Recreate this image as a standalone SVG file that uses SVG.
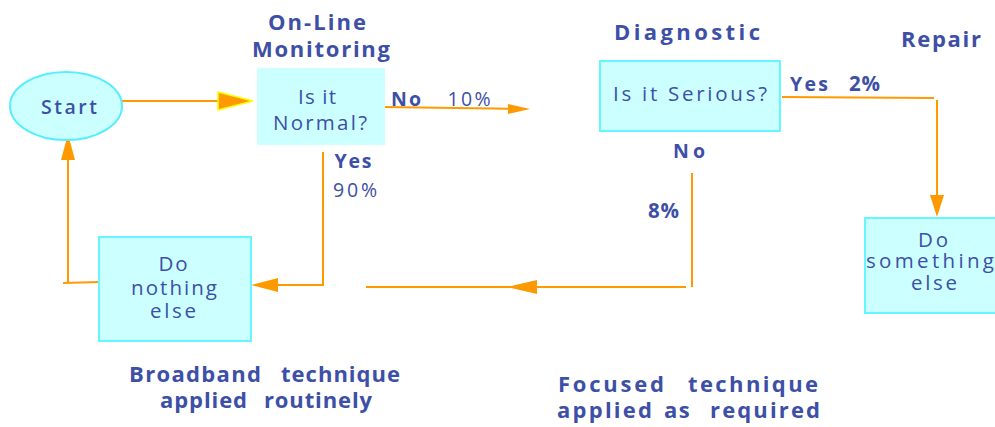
<svg xmlns="http://www.w3.org/2000/svg" width="995" height="427" viewBox="0 0 995 427">
<style>
.t{font-family:"Open Sans","Noto Sans",sans-serif;fill:#3d4fa6;text-anchor:middle;}
.s{text-anchor:start;}
.b{font-weight:bold;font-size:22px;}
.n{font-weight:500;font-size:20.5px;}
.lb{font-weight:bold;font-size:19.5px;}
.ln{font-weight:500;font-size:19.5px;}
.box{fill:#ccffff;stroke:#66f6ff;stroke-width:2;}
.c{fill:none;stroke:#ff9900;stroke-width:2;}
.ah{fill:#ff9900;stroke:none;}
</style>
<rect width="995" height="427" fill="#ffffff"/>
<g id="connectors">
  <line class="c" x1="122" y1="101" x2="220" y2="101"/>
  <polygon points="218,92 253,101 218,110" fill="#ff9900" stroke="#ffff00" stroke-width="1.5"/>
  <polyline class="c" points="384,107 520,109"/>
  <polygon class="ah" points="508,104 530,109 508,114"/>
  <polyline class="c" points="323,152 323,285 275,285"/>
  <polygon class="ah" points="278,278 251,285 278,292"/>
  <polyline class="c" points="99,282 63,283"/>
  <polyline class="c" points="68,283 68,158"/>
  <polygon class="ah" points="61,160 68,134 75,160"/>
  <polyline class="c" points="782,97 934,98"/>
  <polyline class="c" points="937,100 937,200"/>
  <polygon class="ah" points="930,195 937,217 944,195"/>
  <polyline class="c" points="692,173 692,287"/>
  <polyline class="c" points="686,287 366,287"/>
  <polygon class="ah" points="537,280 507,287 537,294"/>
</g>
<g id="start">
  <ellipse cx="66" cy="106" rx="56" ry="34" fill="#ccffff" stroke="#55eeff" stroke-width="2"/>
  <text class="t" x="69" y="114" style="font-weight:600;font-size:19.5px" textLength="56" lengthAdjust="spacing">Start</text>
</g>
<g id="online-monitoring">
  <text class="t b" x="317" y="30" textLength="98" lengthAdjust="spacing">On-Line</text>
  <text class="t b" x="321" y="57" textLength="138" lengthAdjust="spacing">Monitoring</text>
  <rect x="257" y="68" width="128" height="77" fill="#ccffff"/>
  <text class="t n" x="317" y="104" textLength="38" lengthAdjust="spacing">Is it</text>
  <text class="t n" x="320" y="130" textLength="94" lengthAdjust="spacing">Normal?</text>
</g>
<g id="labels-normal">
  <text class="t lb" x="406" y="106" textLength="30" lengthAdjust="spacing">No</text>
  <text class="t ln" x="469" y="106" textLength="43" lengthAdjust="spacing">10%</text>
  <text class="t lb" x="353" y="168" textLength="37" lengthAdjust="spacing">Yes</text>
  <text class="t ln" x="355" y="197" textLength="44" lengthAdjust="spacing">90%</text>
</g>
<g id="do-nothing">
  <rect class="box" x="99" y="237" width="152" height="104"/>
  <text class="t n" x="173" y="271" textLength="29" lengthAdjust="spacing">Do</text>
  <text class="t n" x="174" y="295" textLength="86" lengthAdjust="spacing">nothing</text>
  <text class="t n" x="173" y="318" textLength="46" lengthAdjust="spacing">else</text>
</g>
<g id="diagnostic">
  <text class="t b" x="687" y="40" textLength="146" lengthAdjust="spacing">Diagnostic</text>
  <rect class="box" x="600" y="61" width="180" height="70"/>
  <text class="t n" x="690" y="101" textLength="154" lengthAdjust="spacing">Is it Serious?</text>
</g>
<g id="labels-serious">
  <text class="t lb" x="809" y="91" textLength="38" lengthAdjust="spacing">Yes</text>
  <text class="t lb" x="865" y="91" style="font-size:20.5px;letter-spacing:1px">2%</text>
  <text class="t lb" x="689" y="158" textLength="32" lengthAdjust="spacing">No</text>
  <text class="t lb" x="664" y="218" style="font-size:20.5px;letter-spacing:1px">8%</text>
</g>
<g id="repair">
  <text class="t b" x="941" y="47" textLength="80" lengthAdjust="spacing">Repair</text>
</g>
<g id="do-something">
  <rect class="box" x="865" y="218" width="140" height="95"/>
  <text class="t n" x="933" y="247" textLength="30" lengthAdjust="spacing">Do</text>
  <text class="t n" x="930" y="268" textLength="128" lengthAdjust="spacing">something</text>
  <text class="t n" x="934" y="290" textLength="46" lengthAdjust="spacing">else</text>
</g>
<g id="captions">
  <text class="t s b" y="382"><tspan x="129" textLength="132" lengthAdjust="spacing">Broadband</tspan> <tspan x="281" textLength="119" lengthAdjust="spacing">technique</tspan></text>
  <text class="t s b" y="408"><tspan x="160" textLength="87" lengthAdjust="spacing">applied</tspan> <tspan x="264" textLength="108" lengthAdjust="spacing">routinely</tspan></text>
  <text class="t s b" y="392"><tspan x="558" textLength="106" lengthAdjust="spacing">Focused</tspan> <tspan x="688" textLength="130" lengthAdjust="spacing">technique</tspan></text>
  <text class="t s b" y="418"><tspan x="557" textLength="95" lengthAdjust="spacing">applied</tspan> <tspan x="664" style="letter-spacing:1.5px">as</tspan> <tspan x="710" textLength="110" lengthAdjust="spacing">required</tspan></text>
</g>
</svg>
